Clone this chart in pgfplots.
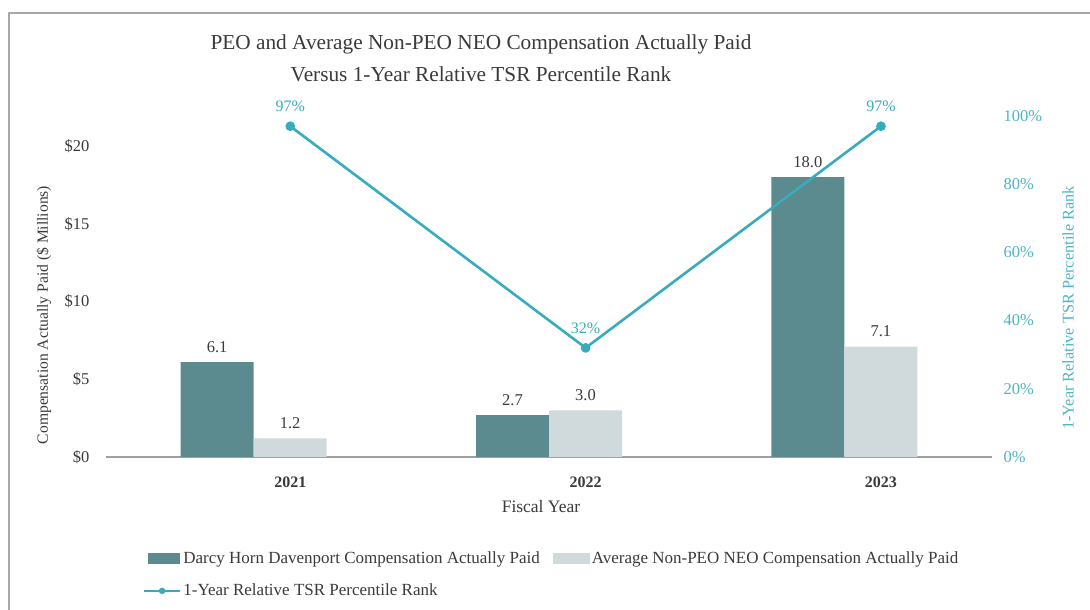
\documentclass[border=0pt]{standalone}
\usepackage{fontspec}
\setmainfont{Liberation Serif}
\usepackage{pgfplots}
\pgfplotsset{compat=1.18}
\definecolor{darkbar}{HTML}{5B8A8F}
\definecolor{lightbar}{HTML}{D0D9DC}
\definecolor{tsr}{HTML}{38ACBD}
\definecolor{txt}{HTML}{3A3A3A}
\definecolor{ticktsr}{HTML}{4DB5C5}
\definecolor{axisgray}{HTML}{A0A0A0}
\definecolor{framegray}{HTML}{A8A8A8}
\newcommand{\fs}[1]{\fontsize{#1}{#1}\selectfont}
\begin{document}
\begin{tikzpicture}[x=1pt,y=1pt]
\path[use as bounding box] (0,0) rectangle (1090,610);
\draw[color=framegray, line width=2pt] (9,-5) -- (9,597) -- (1095,597);
\node[font=\fs{21.3}, color=txt] at (481,566) {PEO and Average Non-PEO NEO Compensation Actually Paid};
\node[font=\fs{21.3}, color=txt] at (481,536) {Versus 1-Year Relative TSR Percentile Rank};
\node[font=\fs{15.6}, color=txt, rotate=90] at (44,295) {Compensation Actually Paid (\$ Millions)};
\node[font=\fs{16.3}, color=ticktsr, rotate=90] at (1068,302) {1-Year Relative TSR Percentile Rank};
\node[font=\fs{17.5}, color=txt] at (541,103) {Fiscal Year};
\begin{axis}[
  at={(106pt,153pt)}, anchor=south west, scale only axis,
  width=886pt, height=341pt,
  xmin=-0.5, xmax=2.5, ymin=0, ymax=21.93,
  ybar=0pt, bar width=73pt,
  clip=false,
  axis line style={draw=none}, major tick length=0pt,
  /pgf/number format/assume math mode=true,
  xtick={0.124,1.124,2.124}, xticklabels={2021,2022,2023},
  xticklabel style={font=\fs{16}\bfseries, color=txt, yshift=-16pt},
  ytick={0,5,10,15,20}, yticklabels={\$0,\$5,\$10,\$15,\$20},
  yticklabel style={font=\fs{16.5}, color=txt, xshift=-13pt},
  nodes near coords,
  every node near coord/.append style={font=\fs{16.5}, color=txt, yshift=6pt,
    /pgf/number format/fixed, /pgf/number format/fixed zerofill, /pgf/number format/precision=1},
  legend columns=2,
  legend cell align=left,
  legend style={draw=none, fill=none, at={(0.038,-0.266)}, anchor=north west,
    font=\fs{17}, text=txt, row sep=15pt,
    /tikz/every even column/.append style={column sep=11pt}},
]
\draw[color=axisgray, line width=1.6pt] (rel axis cs:0,0) -- (rel axis cs:1,0);
\addplot[fill=darkbar, draw=none, legend image code/.code={\fill[darkbar] (0pt,-5.5pt) rectangle (32pt,5.5pt);}]
  coordinates {(0,6.1) (1,2.7) (2,18.0)};
\addlegendentry{Darcy Horn Davenport Compensation Actually Paid}
\addplot[fill=lightbar, draw=none, legend image code/.code={\fill[lightbar] (0pt,-5.5pt) rectangle (37pt,5.5pt);}]
  coordinates {(0,1.2) (1,3.0) (2,7.1)};
\addlegendentry{Average Non-PEO NEO Compensation Actually Paid}
\addlegendimage{legend image code/.code={\draw[tsr, line width=2.5pt] (-4pt,0pt) -- (32pt,0pt); \fill[tsr] (14pt,0pt) circle (3pt);}}
\addlegendentry{1-Year Relative TSR Percentile Rank}
\end{axis}
\begin{axis}[
  at={(106pt,153pt)}, anchor=south west, scale only axis,
  width=886pt, height=341pt,
  xmin=-0.5, xmax=2.5, ymin=0, ymax=100,
  clip=false,
  axis x line=none, axis y line*=right,
  axis line style={draw=none}, major tick length=0pt,
  /pgf/number format/assume math mode=true,
  ytick={0,20,40,60,80,100}, yticklabels={0\%,20\%,40\%,60\%,80\%,100\%},
  yticklabel style={font=\fs{16.5}, color=ticktsr, anchor=west, xshift=8pt},
]
\addplot[tsr, line width=2.6pt, mark=*, mark size=3.5pt,
  nodes near coords={\pgfmathprintnumber[fixed,precision=0]{\pgfplotspointmeta}\%},
  every node near coord/.append style={font=\fs{16}, color=tsr, yshift=10pt}]
  coordinates {(0.124,97) (1.124,32) (2.124,97)};
\end{axis}
\end{tikzpicture}
\end{document}
